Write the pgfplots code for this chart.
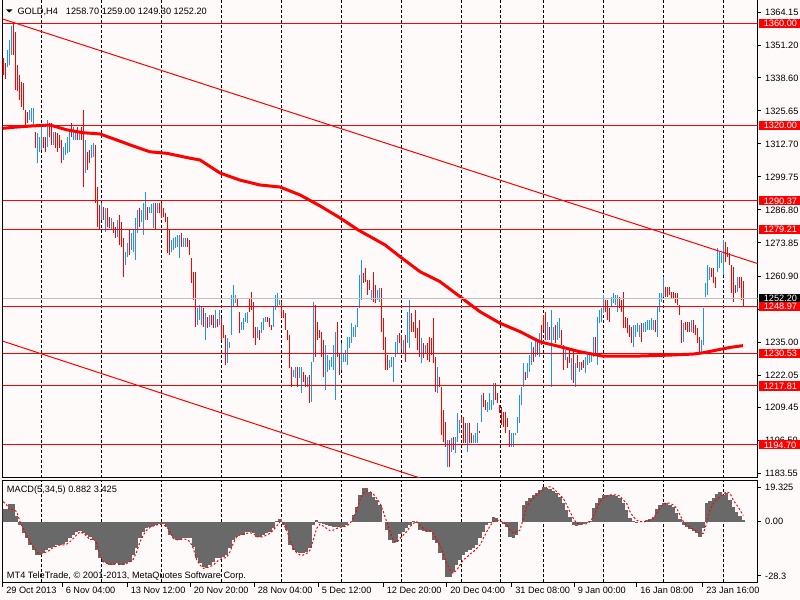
\documentclass[border=0pt]{standalone}
\usepackage{pgfplots}
\pgfplotsset{compat=1.18}
\usepackage{pgfplotstable}
\usepackage{fontspec}
\setmainfont{Liberation Sans}
\definecolor{bg}{HTML}{FFFAFA}
\definecolor{upc}{HTML}{1E90FF}
\definecolor{dnc}{HTML}{FF0000}
\definecolor{hist}{HTML}{696969}
\definecolor{cur}{HTML}{C0C0C0}
\newcommand\lab{\fontsize{6.9}{7.8}\selectfont}

\pgfplotstableread{
x lo hi
7 1342.9 1349.5
9 1343.6 1353.5
11 1347.6 1358.9
29 1322.1 1326.0
31 1321.3 1326.8
33 1320.1 1326.8
37 1305.2 1317.0
39 1309.5 1315.4
41 1310.3 1320.1
47 1311.5 1322.1
53 1312.3 1317.4
63 1306.4 1311.5
65 1308.4 1313.1
67 1309.1 1315.4
69 1309.5 1317.4
73 1314.2 1319.3
75 1314.2 1317.4
79 1314.2 1317.4
85 1301.3 1314.2
91 1307.2 1312.3
93 1307.6 1313.1
101 1282.9 1289.5
105 1278.2 1287.6
111 1279.0 1283.7
117 1276.2 1282.9
125 1265.2 1270.3
127 1268.4 1273.9
131 1271.1 1277.8
133 1270.3 1279.0
135 1267.2 1283.7
137 1277.8 1286.8
141 1282.1 1286.8
143 1277.0 1289.5
145 1282.9 1293.8
149 1285.6 1288.0
151 1285.6 1289.1
153 1279.7 1289.5
157 1285.6 1289.5
171 1270.3 1275.0
173 1271.1 1275.8
175 1271.9 1276.2
177 1272.3 1277.0
179 1268.0 1277.0
183 1272.3 1275.8
185 1272.3 1275.8
197 1241.7 1248.4
199 1243.7 1249.5
201 1241.7 1248.8
205 1235.8 1246.4
209 1240.9 1245.6
215 1240.5 1247.6
219 1241.7 1247.6
227 1226.8 1236.6
229 1232.7 1235.0
231 1237.8 1253.5
233 1248.8 1257.4
235 1250.3 1253.5
241 1239.7 1242.9
243 1239.7 1244.4
245 1242.9 1246.4
247 1242.5 1246.8
257 1236.6 1240.9
261 1238.6 1242.9
263 1239.7 1244.4
265 1242.9 1244.8
273 1240.9 1248.8
275 1247.6 1253.5
277 1248.8 1254.2
279 1249.5 1251.5
293 1221.3 1224.1
295 1220.9 1225.2
299 1220.9 1225.2
301 1215.0 1225.2
307 1217.4 1221.3
311 1211.5 1227.2
313 1227.2 1250.7
325 1216.2 1233.9
327 1223.3 1229.9
329 1224.1 1228.0
331 1225.2 1229.2
333 1224.1 1233.9
335 1212.3 1239.0
341 1224.1 1234.6
343 1227.2 1230.7
345 1227.2 1231.9
347 1226.0 1237.0
349 1232.7 1237.0
351 1234.6 1242.5
353 1237.0 1240.9
355 1237.0 1241.7
357 1240.9 1248.4
359 1248.4 1261.3
361 1251.5 1267.2
371 1251.5 1255.4
377 1251.5 1255.4
379 1250.7 1256.2
389 1224.8 1228.0
391 1225.2 1229.2
393 1219.4 1229.2
395 1229.2 1235.0
397 1230.7 1237.8
403 1230.7 1235.8
407 1234.6 1246.8
409 1232.7 1251.5
421 1226.8 1236.6
425 1230.7 1233.9
437 1215.0 1225.2
447 1186.0 1196.6
451 1191.9 1197.4
455 1191.5 1197.8
457 1195.8 1207.2
459 1199.4 1204.5
467 1191.9 1203.3
473 1195.4 1198.6
475 1195.4 1199.4
477 1195.4 1203.3
481 1203.7 1214.3
487 1207.6 1211.5
489 1208.4 1215.0
491 1208.4 1212.3
493 1210.3 1219.0
511 1193.9 1199.4
513 1193.9 1199.4
515 1198.6 1199.4
517 1199.4 1205.6
519 1203.3 1214.3
521 1210.3 1217.4
523 1217.4 1226.8
527 1220.9 1226.8
529 1223.3 1229.9
531 1226.0 1235.0
535 1229.2 1236.6
539 1229.2 1238.6
547 1235.8 1242.9
551 1217.4 1247.6
553 1235.8 1240.9
557 1235.8 1242.9
559 1236.6 1244.4
565 1228.0 1231.9
571 1220.1 1228.8
575 1217.4 1226.8
579 1223.3 1227.2
585 1222.9 1229.2
587 1226.0 1229.9
589 1226.8 1229.9
591 1227.2 1229.9
593 1229.2 1237.0
597 1226.0 1244.8
599 1242.5 1247.6
601 1242.9 1248.4
603 1246.4 1253.5
611 1248.8 1252.7
613 1250.3 1254.2
615 1249.5 1253.5
617 1246.8 1253.5
633 1233.1 1241.7
635 1237.0 1241.7
637 1239.0 1242.5
639 1237.0 1241.7
643 1239.0 1242.5
645 1239.0 1242.9
647 1239.7 1243.7
649 1239.7 1243.7
651 1239.7 1244.4
653 1239.7 1243.7
657 1237.0 1248.8
659 1246.8 1254.2
661 1250.7 1254.2
663 1252.7 1260.5
683 1235.0 1242.5
691 1239.0 1243.7
701 1230.7 1235.8
703 1233.9 1248.4
705 1252.7 1258.2
707 1253.5 1265.2
709 1259.3 1264.4
717 1262.5 1271.9
719 1264.0 1270.3
721 1266.0 1269.9
723 1261.3 1275.0
737 1254.6 1260.5
}\upbars

\pgfplotstableread{
x lo hi
3 1339.7 1346.4
5 1338.2 1344.4
13 1347.6 1359.7
15 1333.8 1356.6
17 1333.5 1343.6
19 1329.9 1339.7
21 1327.2 1337.0
23 1326.0 1336.6
25 1320.1 1326.0
27 1320.9 1325.2
35 1311.1 1317.4
43 1311.1 1315.4
45 1309.5 1315.4
49 1315.4 1320.9
51 1312.3 1320.9
55 1311.1 1317.4
57 1309.5 1317.0
59 1311.1 1316.2
61 1305.2 1314.2
71 1315.4 1320.9
77 1314.2 1319.3
81 1314.2 1319.3
83 1295.8 1326.0
87 1302.5 1309.5
89 1305.2 1310.3
95 1289.5 1312.3
97 1280.1 1295.8
99 1279.0 1288.8
103 1282.9 1288.0
107 1280.1 1287.6
109 1279.7 1284.0
113 1277.8 1282.1
115 1275.8 1280.1
119 1273.1 1284.8
121 1272.3 1282.1
123 1260.5 1275.8
129 1269.1 1279.0
139 1280.1 1287.6
147 1282.9 1288.0
155 1279.0 1289.5
159 1285.6 1289.5
161 1283.7 1289.5
163 1284.0 1287.6
165 1282.1 1285.6
167 1269.9 1284.0
169 1269.1 1279.0
181 1272.3 1277.8
187 1272.3 1275.8
189 1269.1 1275.0
191 1258.2 1268.0
193 1251.5 1262.5
195 1240.9 1262.5
203 1240.9 1248.4
207 1240.5 1244.8
211 1241.7 1245.6
213 1240.5 1245.6
217 1240.9 1244.1
221 1235.8 1244.4
223 1236.6 1241.7
225 1226.0 1237.8
237 1248.8 1252.3
239 1238.6 1246.8
249 1246.8 1252.3
251 1247.6 1254.6
253 1236.6 1250.7
255 1233.9 1240.9
259 1235.8 1239.7
267 1242.9 1244.8
269 1240.9 1244.4
271 1239.7 1241.7
281 1244.8 1250.7
283 1244.4 1247.6
285 1239.7 1246.4
287 1235.8 1239.7
289 1224.8 1237.8
291 1217.4 1225.2
297 1217.4 1225.2
303 1219.4 1223.3
305 1217.4 1222.1
309 1211.1 1222.1
315 1229.2 1249.5
317 1235.8 1242.9
319 1236.6 1239.7
321 1229.2 1239.0
323 1221.3 1235.8
337 1229.2 1242.9
339 1222.1 1230.7
363 1258.2 1262.1
365 1258.6 1264.0
367 1253.5 1259.3
369 1255.4 1259.3
373 1250.7 1262.5
375 1250.3 1257.4
381 1239.0 1256.2
383 1231.9 1244.4
385 1224.1 1237.0
387 1224.1 1229.9
399 1234.6 1238.6
401 1231.9 1237.8
405 1227.2 1237.8
411 1239.0 1246.4
413 1239.0 1242.9
415 1236.6 1247.6
417 1231.9 1240.5
419 1229.2 1243.7
423 1228.8 1234.6
427 1228.0 1234.6
429 1227.2 1237.0
431 1229.9 1236.6
433 1226.8 1244.4
435 1215.4 1229.2
439 1217.4 1221.3
441 1198.6 1217.4
443 1195.8 1208.4
445 1193.9 1203.7
449 1186.0 1196.6
453 1192.7 1197.8
461 1203.3 1205.6
463 1195.4 1205.6
465 1195.4 1203.3
469 1195.4 1203.3
471 1195.4 1199.4
479 1199.4 1200.1
483 1209.5 1215.0
485 1208.4 1212.3
495 1212.3 1219.0
497 1211.1 1215.0
499 1207.2 1210.3
501 1202.5 1209.5
503 1201.7 1207.6
505 1199.4 1207.6
507 1201.7 1205.2
509 1193.9 1200.5
525 1220.1 1223.3
533 1227.2 1233.1
537 1229.9 1235.0
541 1233.9 1241.7
543 1239.7 1245.6
545 1235.8 1246.8
549 1235.8 1240.9
555 1234.6 1241.7
561 1233.9 1239.7
563 1224.1 1233.9
567 1224.8 1229.2
569 1226.8 1232.7
573 1219.0 1231.9
577 1224.8 1229.9
581 1224.1 1227.2
583 1224.8 1228.0
595 1230.7 1237.0
605 1246.8 1251.5
607 1243.7 1251.5
609 1242.9 1248.4
619 1248.4 1252.7
621 1246.8 1251.5
623 1240.5 1254.6
625 1240.5 1244.8
627 1238.6 1244.4
629 1237.0 1241.7
631 1234.6 1240.9
641 1235.0 1242.5
655 1239.0 1243.7
665 1252.7 1256.6
667 1252.7 1256.6
669 1253.5 1256.6
671 1252.3 1254.6
673 1252.3 1254.6
675 1250.3 1254.2
677 1249.5 1254.2
679 1245.6 1249.5
681 1234.6 1243.7
685 1239.7 1242.9
687 1239.0 1242.9
689 1239.0 1242.9
693 1238.6 1243.7
695 1237.8 1241.7
697 1234.6 1240.5
699 1230.7 1237.0
711 1260.5 1264.0
713 1258.2 1264.0
715 1256.2 1260.5
725 1266.4 1274.2
727 1268.4 1272.3
729 1265.2 1269.9
731 1254.2 1265.2
733 1250.7 1264.4
735 1254.2 1257.4
739 1256.2 1260.5
741 1251.5 1260.5
743 1249.3 1259.0
}\dnbars

\pgfplotstableread{
x h s
3.3 6.8 11
6.7 6.8 9.2
10 10 6.4
13.3 10 6.8
16.7 3 5.5
20 -1.8 0
23.3 -6.4 -3.7
26.7 -9.2 -7.3
30 -12.8 -11
33.3 -15.6 -13.7
36.7 -18.3 -16.5
40 -18.3 -17.8
43.3 -17.4 -17.4
46.7 -15.6 -16.5
50 -14.7 -15.6
53.3 -13.7 -14.1
56.7 -12.8 -13.4
60 -12.8 -12.8
63.3 -12.3 -12.8
66.7 -11 -12.3
70 -9.2 -11
73.3 -7.3 -9.2
76.7 -5.5 -7.3
80 -4.9 -5.5
83.3 -6 -6.4
86.7 -7.3 -7.9
90 -8.2 -10
93.3 -10 -9.2
96.7 -15.6 -11.9
100 -20.1 -18.3
103.3 -22 -22
106.7 -22.9 -22.9
110 -23.8 -23.3
113.3 -23.8 -23.4
116.7 -22.9 -22.9
120 -23.8 -23.3
123.3 -23.8 -23.3
126.7 -22.9 -22.9
130 -22 -22
133.3 -18.3 -20.7
136.7 -14.7 -16.5
140 -9.2 -11
143.3 -5.5 -7.3
146.7 -3.7 -4.6
150 -2.7 -3.1
153.3 -2.4 -2.4
156.7 -1.8 -1.8
160 -1.3 -1.5
163.3 -1.3 -1.8
166.7 -2.7 -2.7
170 -7.3 -5.5
173.3 -9.2 -9.2
176.7 -10 -10
180 -10 -9.7
183.3 -9.2 -9.5
186.7 -9.2 -9.7
190 -9.2 -11
193.3 -13.7 -14.7
196.7 -20.1 -21
200 -22.9 -23.8
203.3 -24.7 -25.6
206.7 -25.6 -25.3
210 -23.8 -24.7
213.3 -22 -23.8
216.7 -20.1 -22
220 -20.1 -20.7
223.3 -19.6 -20.1
226.7 -18.3 -19.6
230 -14.7 -16.5
233.3 -10 -11.9
236.7 -8.2 -8.2
240 -7.3 -7.3
243.3 -7.3 -6.8
246.7 -5.5 -6.4
250 -5.5 -6.1
253.3 -6.4 -6.4
256.7 -8.2 -8.2
260 -8.2 -8.5
263.3 -7.3 -8.2
266.7 -6.4 -7.3
270 -5.5 -6.4
273.3 -3.7 -4.6
276.7 0.5 -2.4
280 1.3 0
283.3 -1.8 -0.9
286.7 -4.6 -4.6
290 -12.8 -10
293.3 -15.6 -14.7
296.7 -16.5 -17
300 -17.4 -18.3
303.3 -17.4 -18.3
306.7 -16.5 -17.4
310 -14.7 -15.6
313.3 -1.8 -10
316.7 0.9 -3.7
320 -0.9 -1.3
323.3 -1.3 -2.4
326.7 -1.8 -3.7
330 -2.4 -4.9
333.3 -2.7 -4.6
336.7 -3.1 -3.7
340 -3.1 -3.1
343.3 -2.7 -2.7
346.7 -1.8 -2.4
350 0 -0.9
353.3 3.7 1.8
356.7 8.2 6.4
360 14.7 11.9
363.3 18.3 15.6
366.7 18.3 17
370 16.5 16.5
373.3 13.7 15.2
376.7 11.9 12.8
380 9.2 10.1
383.3 0 5.5
386.7 -4.6 0
390 -10 -5.5
393.3 -11.9 -10
396.7 -11 -11.5
400 -7 -9.2
403.3 -5.5 -7.3
406.7 -3.7 -5.5
410 -1.8 -2.7
413.3 0.5 -0.9
416.7 -0.9 0
420 -4.6 -1.8
423.3 -4.9 -3.7
426.7 -5.5 -4.6
430 -5.5 -4.9
433.3 -10 -6.4
436.7 -11.9 -10
440 -17.4 -12.8
443.3 -21 -17.4
446.7 -30.2 -22.9
450 -30.2 -26.6
453.3 -27.5 -28.4
456.7 -23.8 -26.6
460 -21 -23.8
463.3 -18.3 -21
466.7 -16.5 -19.6
470 -15.6 -17.8
473.3 -14.7 -16.5
476.7 -12.8 -14.7
480 -9.2 -12.8
483.3 -5.5 -9.2
486.7 -1.8 -5.5
490 -0.5 -2.4
493.3 2.4 0
496.7 1.8 0.9
500 0 0.5
503.3 -1.3 -0.5
506.7 -2.7 -1.8
510 -8.2 -4.6
513.3 -8.8 -6.4
516.7 -7.3 -5.5
520 0 -4.6
523.3 9.2 1.8
526.7 11.5 8.2
530 12.8 11
533.3 14.7 12.8
536.7 15.9 14.7
540 17.4 16.5
543.3 19.2 17.8
546.7 18.3 18.9
550 17.8 19.2
553.3 17 18.3
556.7 15.6 16.5
560 13.4 14.7
563.3 10.1 12.8
566.7 6.4 9.2
570 2.7 5.5
573.3 -1.8 1.8
576.7 -2.4 -0.9
580 -1.8 -1.3
583.3 -1.3 -1.3
586.7 -0.9 -1.1
590 0.5 0
593.3 7.3 2.7
596.7 10.1 6.8
600 12.8 11
603.3 14.7 12.8
606.7 14.7 14.1
610 14.7 14.7
613.3 14.7 14.7
616.7 14.1 14.7
620 12.8 14.1
623.3 10.1 11.9
626.7 6.4 10.1
630 1.8 5.5
633.3 0.5 2.7
636.7 -0.5 0.9
640 0 0
643.3 0 0
646.7 0.9 0
650 1.3 0.9
653.3 2.7 1.8
656.7 6.8 4.6
660 9.2 7.3
663.3 10.4 9.7
666.7 10.1 10.4
670 9.2 10.1
673.3 8.2 9.2
676.7 4.6 7.3
680 1.3 3.7
683.3 -1.8 0
686.7 -3.1 -1.8
690 -4.2 -3.1
693.3 -4.9 -4.2
696.7 -6.4 -5.5
700 -8.2 -6.4
703.3 -3.7 -6.4
706.7 10.1 -0.9
710 11.5 6.4
713.3 12.8 10.1
716.7 15.2 12.3
720 16.5 13.7
723.3 14.7 15.2
726.7 15.6 16.5
730 11.9 15.6
733.3 8.2 11.9
736.7 5.5 9.2
740 3.1 6.4
743.3 0.9 3.4
}\macd

\pgfplotsset{
  mtaxis/.style={
    scale only axis, width=566.25pt,
    xmin=2.5, xmax=757.5,
    axis line style={black, line width=0.75pt},
    xtick={41,101,161,221,281,341,401,461,500,543,603,663,723},
    xticklabels={}, xmajorgrids, xtick style={draw=none},
    grid style={black, line width=0.75pt, dash pattern=on 2.25pt off 1.5pt},
    ytick pos=right, yticklabel pos=right,
    tick align=outside, major tick length=2.25pt,
    ytick style={black, line width=0.75pt},
    yticklabel style={font=\lab},
    clip=true,
  },
  bars/.style={draw=none, mark=none,
    error bars/.cd, y dir=plus, y explicit, error mark=none,
    error bar style={draw=#1, line width=0.75pt, solid}},
}

\begin{document}
\begin{tikzpicture}
\useasboundingbox (0,0) rectangle (600pt,-450pt);
\fill[bg] (0,0) rectangle (600pt,-450pt);

% main price panel
\begin{axis}[mtaxis,
  at={(1.875pt,-358.125pt)}, anchor=south west, height=358.875pt,
  ymin=1181.90, ymax=1369.52,
  ytick={1364.15,1351.20,1338.60,1325.65,1312.70,1299.75,1286.80,1273.85,1260.90,1247.95,1235.00,1222.05,1209.45,1196.50,1183.55},
  yticklabels={1364.15,1351.20,1338.60,1325.65,1312.70,1299.75,1286.80,1273.85,1260.90,{},1235.00,1222.05,1209.45,1196.50,1183.55},
]
\addplot[bars=upc] table[x=x, y=lo, y error expr=\thisrow{hi}-\thisrow{lo}] {\upbars};
\addplot[bars=dnc] table[x=x, y=lo, y error expr=\thisrow{hi}-\thisrow{lo}] {\dnbars};
\addplot[dnc, line width=2.25pt] coordinates {(2.5,1318.8) (13,1319.2) (30,1319.7) (50,1320.1) (67,1318.2) (83,1317.1) (100,1316.6) (117,1314.2) (133,1311.9) (150,1309.6) (167,1309.0) (190,1307.1) (200,1306.4) (220,1301.3) (240,1298.5) (260,1296.6) (280,1295.8) (300,1292.7) (320,1288.4) (340,1283.7) (358,1279.0) (385,1273.1) (400,1268.5) (420,1262.6) (440,1258.7) (460,1252.8) (480,1246.9) (500,1242.4) (520,1239.1) (540,1235.1) (560,1233.2) (580,1231.2) (603,1229.5) (637,1229.5) (670,1229.9) (693,1230.3) (703,1230.8) (717,1231.9) (730,1232.9) (743,1233.6)};
\addplot[cur, line width=0.75pt] coordinates {(2.5,1252.20) (757.5,1252.20)};
\addplot[dnc, line width=0.75pt] coordinates {(2.5,1360.00) (757.5,1360.00)};
\addplot[dnc, line width=0.75pt] coordinates {(2.5,1320.00) (757.5,1320.00)};
\addplot[dnc, line width=0.75pt] coordinates {(2.5,1290.37) (757.5,1290.37)};
\addplot[dnc, line width=0.75pt] coordinates {(2.5,1279.21) (757.5,1279.21)};
\addplot[dnc, line width=0.75pt] coordinates {(2.5,1248.97) (757.5,1248.97)};
\addplot[dnc, line width=0.75pt] coordinates {(2.5,1230.53) (757.5,1230.53)};
\addplot[dnc, line width=0.75pt] coordinates {(2.5,1217.81) (757.5,1217.81)};
\addplot[dnc, line width=0.75pt] coordinates {(2.5,1194.70) (757.5,1194.70)};
\addplot[dnc, line width=0.75pt] coordinates {(2.5,1361.7) (757.5,1265.8)};
\addplot[dnc, line width=0.75pt] coordinates {(2.5,1235.4) (757.5,1138.3)};
\end{axis}

% MACD panel
\begin{axis}[mtaxis,
  at={(1.875pt,-436.725pt)}, anchor=south west, height=76.725pt,
  ymin=-33.30, ymax=22.91,
  ytick={18.9,0,-29.8}, yticklabels={19.325,0.00,-28.3},
]
\addplot[ycomb, draw=hist, line width=2.6pt] table[x=x, y=h] {\macd};
\addplot[dnc, line width=0.75pt, dash pattern=on 1.5pt off 1.5pt] table[x=x, y=s] {\macd};
\end{axis}

\begin{scope}[x=0.75pt, y=-0.75pt, font=\lab]
  % level boxes
  \newcommand\lvl[3]{%
    \fill[#3] (759,{#1-4.6}) rectangle (800,{#1+4.6});
    \node[anchor=west, inner sep=0pt, text=white] at (763.5,#1) {#2};}
  \lvl{298.21}{1252.20}{black}
  \lvl{23.28}{1360.00}{dnc}
  \lvl{125.30}{1320.00}{dnc}
  \lvl{200.87}{1290.37}{dnc}
  \lvl{229.33}{1279.21}{dnc}
  \lvl{306.45}{1248.97}{dnc}
  \lvl{353.48}{1230.53}{dnc}
  \lvl{385.92}{1217.81}{dnc}
  \lvl{444.86}{1194.70}{dnc}
  % title
  \fill[black] (6,9.3) -- (12.5,9.3) -- (9.25,12.6) -- cycle;
  \node[anchor=base west, inner sep=0pt] at (17.3,14) {GOLD,H4};
  \node[anchor=base west, inner sep=0pt] at (65.7,14) {1258.70};
  \node[anchor=base west, inner sep=0pt] at (101.7,14) {1259.00};
  \node[anchor=base west, inner sep=0pt] at (137.7,14) {1249.30};
  \node[anchor=base west, inner sep=0pt] at (173.3,14) {1252.20};
  % MACD texts
  \node[anchor=base west, inner sep=0pt] at (6.7,492.7) {MACD(5,34,5) 0.882 3.425};
  \node[anchor=base west, inner sep=0pt] at (6.7,578.3) {MT4 TeleTrade, © 2001-2013, MetaQuotes Software Corp.};
  % date axis
  \foreach \t/\s in {2.5/29 Oct 2013, 62/6 Nov 04:00, 127/13 Nov 12:00, 190/20 Nov 20:00, 254/28 Nov 04:00, 318/5 Dec 12:00, 383/12 Dec 20:00, 446.5/20 Dec 04:00, 511.5/31 Dec 08:00, 574/9 Jan 00:00, 636.5/16 Jan 08:00, 702.5/23 Jan 16:00}{
    \draw[black, line width=0.75pt] (\t,582.3) -- (\t,586.5);
    \node[anchor=base west, inner sep=0pt] at ({\t+3.5},593.3) {\s};
  }
\end{scope}
\end{tikzpicture}
\end{document}
